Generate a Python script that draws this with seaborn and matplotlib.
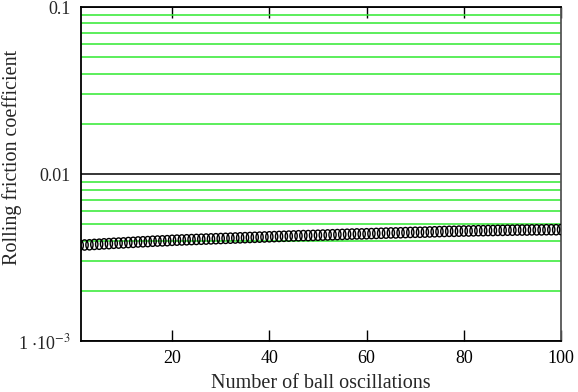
import numpy as np
import pandas as pd
import matplotlib
matplotlib.use("Agg")
import matplotlib.pyplot as plt
import seaborn as sns
from matplotlib.path import Path
from matplotlib.ticker import LogLocator, FixedLocator, NullFormatter

# Data
oscillations = list(range(1, 101))
friction = [
    3.74, 3.76, 3.77, 3.79, 3.80, 3.82, 3.83, 3.85, 3.86, 3.87,
    3.89, 3.90, 3.92, 3.93, 3.94, 3.96, 3.97, 3.98, 3.99, 4.01,
    4.02, 4.03, 4.04, 4.05, 4.06, 4.07, 4.08, 4.09, 4.10, 4.11,
    4.12, 4.13, 4.14, 4.15, 4.16, 4.17, 4.18, 4.19, 4.20, 4.21,
    4.22, 4.23, 4.24, 4.25, 4.26, 4.27, 4.28, 4.28, 4.29, 4.30,
    4.31, 4.32, 4.33, 4.34, 4.35, 4.36, 4.37, 4.38, 4.38, 4.39,
    4.40, 4.41, 4.42, 4.43, 4.44, 4.44, 4.45, 4.46, 4.47, 4.48,
    4.48, 4.49, 4.50, 4.51, 4.52, 4.53, 4.54, 4.54, 4.55, 4.56,
    4.56, 4.57, 4.58, 4.58, 4.59, 4.59, 4.60, 4.60, 4.61, 4.61,
    4.62, 4.62, 4.62, 4.63, 4.63, 4.63, 4.64, 4.64, 4.64, 4.65,
]
friction = [v * 1e-3 for v in friction]

x_ticks = [20, 40, 60, 80, 100]
y_ticks = [1e-3, 0.01, 0.1]
y_tick_labels = [r"1 $\cdot$10$^{-3}$", "0.01", "0.1"]

df = pd.DataFrame({"n": oscillations, "mu": friction})

sns.set_style("white")
plt.rcParams["font.family"] = ["Liberation Serif", "DejaVu Serif"]
plt.rcParams["mathtext.fontset"] = "stix"

fig = plt.figure(figsize=(5.78, 3.92), dpi=100)
ax = fig.add_axes([0.1396, 0.130, 0.9706 - 0.1396, 0.982 - 0.130])

ax.set_yscale("log")
ax.set_ylim(1e-3, 0.1)
ax.set_xlim(1.2, 100)

# grid: green for sub-decades, black at decades
ax.yaxis.set_minor_locator(LogLocator(base=10, subs=np.arange(2, 10)))
ax.yaxis.set_minor_formatter(NullFormatter())
ax.grid(which="minor", axis="y", color="#2fea2f", linewidth=1.1)
ax.grid(which="major", axis="y", color="black", linewidth=1.1)
ax.grid(False, axis="x")
ax.set_axisbelow(True)

# elongated open circle like the original
t = np.linspace(0, 2 * np.pi, 40)
ellipse = Path(np.column_stack([0.7 * np.cos(t), np.sin(t)]), closed=True)

sns.scatterplot(data=df, x="n", y="mu", ax=ax, marker=ellipse, s=55,
                facecolors="none", edgecolors="black", linewidth=1.0,
                zorder=3, legend=False)

ax.yaxis.set_major_locator(FixedLocator(y_ticks))
ax.set_yticklabels(y_tick_labels)
ax.xaxis.set_major_locator(FixedLocator(x_ticks))
ax.set_xticklabels([str(v) for v in x_ticks])

ax.tick_params(axis="x", direction="in", length=8, width=1, top=True,
               bottom=True, labelsize=13, pad=6.5, colors="black")
ax.tick_params(axis="y", which="both", length=0, labelsize=13, pad=7)

for side in ["left", "right", "top", "bottom"]:
    ax.spines[side].set_visible(True)
    ax.spines[side].set_color("black")
    ax.spines[side].set_linewidth(1.3)
ax.spines["right"].set_color("#555555")

ax.set_xlabel("Number of ball oscillations", fontsize=14.5)
ax.set_ylabel("Rolling friction coefficient", fontsize=14.5)
ax.xaxis.set_label_coords(0.5, -0.098)
ax.yaxis.set_label_coords(-0.122, 0.551)

fig.savefig("out.png", dpi=100)
